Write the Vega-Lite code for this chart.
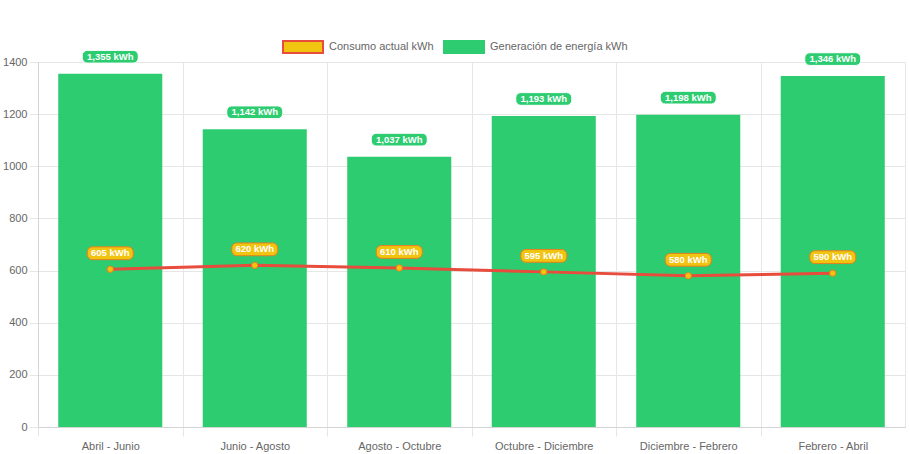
{
  "$schema": "https://vega.github.io/schema/vega-lite/v6.json",
  "width": 867,
  "height": 365,
  "autosize": {"type": "none"},
  "padding": {"left": 38, "top": 62, "right": 5, "bottom": 27},
  "background": "white",
  "config": {
    "view": {"stroke": "#e6e6e6", "strokeWidth": 1},
    "font": "Liberation Sans",
    "axis": {
      "labelFont": "Liberation Sans",
      "labelFontSize": 11,
      "labelColor": "#666666",
      "gridColor": "#e6e6e6",
      "tickColor": "#e6e6e6",
      "domainColor": "#d4d4d4",
      "tickSize": 9,
      "title": null
    },
    "legend": {
      "labelFont": "Liberation Sans",
      "labelFontSize": 11,
      "labelColor": "#666666"
    }
  },
  "data": {
    "values": [
      {"periodo": "Abril - Junio", "generacion": 1355, "consumo": 605},
      {"periodo": "Junio - Agosto", "generacion": 1142, "consumo": 620},
      {"periodo": "Agosto - Octubre", "generacion": 1037, "consumo": 610},
      {"periodo": "Octubre - Diciembre", "generacion": 1193, "consumo": 595},
      {"periodo": "Diciembre - Febrero", "generacion": 1198, "consumo": 580},
      {"periodo": "Febrero - Abril", "generacion": 1346, "consumo": 590}
    ]
  },
  "transform": [
    {"calculate": "format(datum.generacion, ',') + ' kWh'", "as": "etiquetaGen"},
    {"calculate": "format(datum.consumo, ',') + ' kWh'", "as": "etiquetaCons"}
  ],
  "encoding": {
    "x": {
      "field": "periodo",
      "type": "nominal",
      "sort": null,
      "scale": {"paddingInner": 0.28, "paddingOuter": 0.14},
      "axis": {
        "labelAngle": 0,
        "grid": true,
        "bandPosition": 0,
        "tickOffset": -20.23,
        "labelOffset": 20.23,
        "labelPadding": 4
      }
    }
  },
  "layer": [
    {
      "mark": {"type": "bar"},
      "encoding": {
        "y": {
          "field": "generacion",
          "type": "quantitative",
          "scale": {"domain": [0, 1400], "nice": false},
          "axis": {
            "values": [0, 200, 400, 600, 800, 1000, 1200, 1400],
            "labelPadding": 2,
            "format": "d"
          }
        },
        "color": {
          "datum": "Generación de energía kWh",
          "type": "nominal",
          "scale": {
            "domain": ["Consumo actual kWh", "Generación de energía kWh"],
            "range": ["#f1c40f", "#2ecc71"]
          },
          "legend": {
            "title": null,
            "orient": "none",
            "direction": "horizontal",
            "legendX": 244,
            "legendY": -36,
            "symbolType": "M-1,-0.3H1V0.3H-1Z",
            "symbolSize": 1600,
            "symbolStrokeWidth": 2,
            "symbolOpacity": 1,
            "labelOffset": 5,
            "columnPadding": 6,
            "encode": {
              "symbols": {
                "update": {
                  "stroke": {"signal": "datum.value === 'Consumo actual kWh' ? '#e74c3c' : '#2ecc71'"},
                  "fill": {"signal": "datum.value === 'Consumo actual kWh' ? '#f1c40f' : '#2ecc71'"}
                }
              }
            }
          }
        }
      }
    },
    {
      "mark": {
        "type": "line",
        "color": "#e74c3c",
        "strokeWidth": 3,
        "point": {"filled": true, "fill": "#f1c40f", "stroke": "#e67e22", "strokeWidth": 1, "size": 40}
      },
      "encoding": {
        "y": {"field": "consumo", "type": "quantitative"}
      }
    },
    {
      "mark": {
        "type": "point",
        "shape": "M-0.82,-0.227H0.82A0.18,0.18 0 0 1 1,-0.047V0.047A0.18,0.18 0 0 1 0.82,0.227H-0.82A0.18,0.18 0 0 1 -1,0.047V-0.047A0.18,0.18 0 0 1 -0.82,-0.227Z",
        "size": 3136,
        "filled": true,
        "fill": "#2ecc71",
        "stroke": "#ffffff",
        "strokeWidth": 1,
        "opacity": 1,
        "yOffset": -17
      },
      "encoding": {
        "y": {"field": "generacion", "type": "quantitative"}
      }
    },
    {
      "mark": {
        "type": "text",
        "color": "#ffffff",
        "fontWeight": "bold",
        "fontSize": 9.5,
        "font": "Liberation Sans",
        "yOffset": -17
      },
      "encoding": {
        "y": {"field": "generacion", "type": "quantitative"},
        "text": {"field": "etiquetaGen", "type": "nominal"}
      }
    },
    {
      "mark": {
        "type": "point",
        "shape": "M-0.78,-0.278H0.78A0.22,0.22 0 0 1 1,-0.058V0.058A0.22,0.22 0 0 1 0.78,0.278H-0.78A0.22,0.22 0 0 1 -1,0.058V-0.058A0.22,0.22 0 0 1 -0.78,-0.278Z",
        "size": 2116,
        "filled": true,
        "fill": "#f1c40f",
        "stroke": "#e67e22",
        "strokeWidth": 1,
        "opacity": 1,
        "yOffset": -16
      },
      "encoding": {
        "y": {"field": "consumo", "type": "quantitative"}
      }
    },
    {
      "mark": {
        "type": "text",
        "color": "#ffffff",
        "fontWeight": "bold",
        "fontSize": 9.5,
        "font": "Liberation Sans",
        "yOffset": -16
      },
      "encoding": {
        "y": {"field": "consumo", "type": "quantitative"},
        "text": {"field": "etiquetaCons", "type": "nominal"}
      }
    }
  ]
}
